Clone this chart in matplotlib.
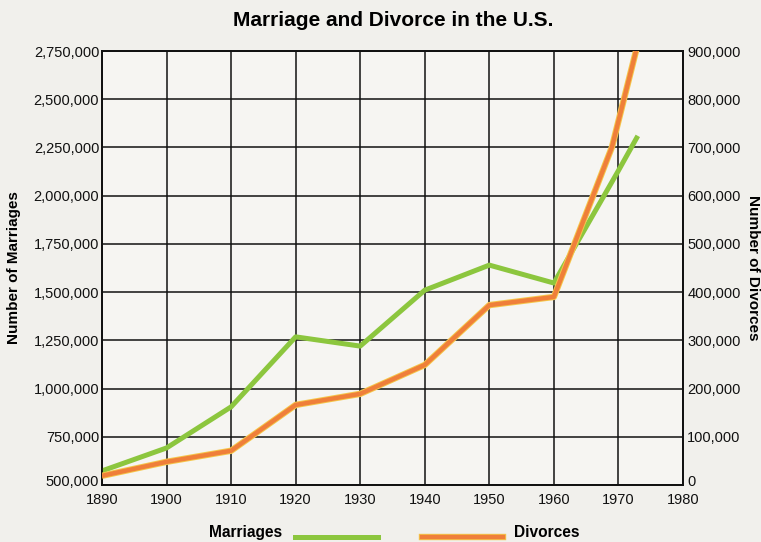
import numpy as np
import matplotlib
matplotlib.use("Agg")
from matplotlib import pyplot as plt
from matplotlib.lines import Line2D
from matplotlib.ticker import FuncFormatter
from matplotlib.transforms import ScaledTranslation

plt.rcParams["font.family"] = ["Liberation Sans", "DejaVu Sans"]

# values
marriage_years = [1890, 1900, 1910, 1920, 1930, 1940, 1950, 1960, 1970, 1973]
marriages = [573000, 692000, 905000, 1268000, 1220000, 1510000, 1640000, 1547000, 2130000, 2310000]

divorce_years = [1890, 1900, 1910, 1920, 1930, 1940, 1950, 1960, 1969, 1973]
divorces = [19000, 48000, 71000, 166000, 189000, 249000, 373000, 390000, 701000, 915000]

x_ticks = np.arange(1890, 1981, 10)
left_ticks = np.arange(500000, 2750001, 250000)
right_ticks = np.arange(0, 900001, 100000)

paper = "#f1f0ec"
green = "#8cc63e"
orange = "#ef7f3a"

fig = plt.figure(figsize=(7.61, 5.42), dpi=100, facecolor=paper)
ax = fig.add_axes([0.134, 0.1052, 0.7635, 0.8007])
ax.set_facecolor("#f6f5f2")
ax2 = ax.twinx()

ax.plot(marriage_years, marriages, color=green, lw=3.6, solid_capstyle="butt", zorder=5)
ax2.plot(divorce_years, divorces, color="#f5c64a", lw=4.6, solid_capstyle="butt", zorder=4)
ax2.plot(divorce_years, divorces, color=orange, lw=3.2, solid_capstyle="butt", zorder=5)

ax.set_xlim(1890, 1980)
ax.set_ylim(500000, 2750000)
ax2.set_ylim(0, 900000)
ax.set_xticks(x_ticks)
ax.set_yticks(left_ticks)
ax2.set_yticks(right_ticks)

comma = FuncFormatter(lambda v, p: f"{int(v):,}")
ax.yaxis.set_major_formatter(comma)
ax2.yaxis.set_major_formatter(FuncFormatter(lambda v, p: "0" if v == 0 else f"{int(v):,}"))

ax.grid(True, color="#111111", lw=1.1)
ax.set_axisbelow(True)
for a in (ax, ax2):
    for s in a.spines.values():
        s.set_color("#111111")
        s.set_linewidth(1.3)
    a.tick_params(length=0, labelsize=10.5, colors="#111111")
ax.tick_params(axis="y", pad=2)
ax.tick_params(axis="x", pad=6)
ax2.tick_params(axis="y", pad=3)

# bottom labels on both y axes sit a little above the baseline in the scan
lift = ScaledTranslation(0, 3 / 72, fig.dpi_scale_trans)
for a in (ax, ax2):
    lbl = a.yaxis.get_major_ticks()[0].label1 if a is ax else a.yaxis.get_major_ticks()[0].label2
    lbl.set_transform(lbl.get_transform() + lift)

ax.set_ylabel("Number of Marriages", fontsize=11, fontweight="bold", labelpad=9)
ax2.set_ylabel("Number of Divorces", fontsize=11, fontweight="bold", rotation=-90, labelpad=14)

fig.text(0.517, 0.962, "Marriage and Divorce in the U.S.", ha="center", va="center",
         fontsize=15, fontweight="bold")

# legend row under the chart
fig.text(0.371, 0.017, "Marriages", ha="right", va="center", fontsize=11.2, fontweight="bold")
fig.add_artist(Line2D([0.388, 0.497], [0.009, 0.009], color=green, lw=3.6, transform=fig.transFigure))
fig.add_artist(Line2D([0.555, 0.661], [0.009, 0.009], color="#f5c64a", lw=4.6, transform=fig.transFigure))
fig.add_artist(Line2D([0.555, 0.661], [0.009, 0.009], color=orange, lw=3.2, transform=fig.transFigure))
fig.text(0.675, 0.017, "Divorces", ha="left", va="center", fontsize=11.2, fontweight="bold")

fig.savefig("out.png", dpi=100, facecolor=paper)
